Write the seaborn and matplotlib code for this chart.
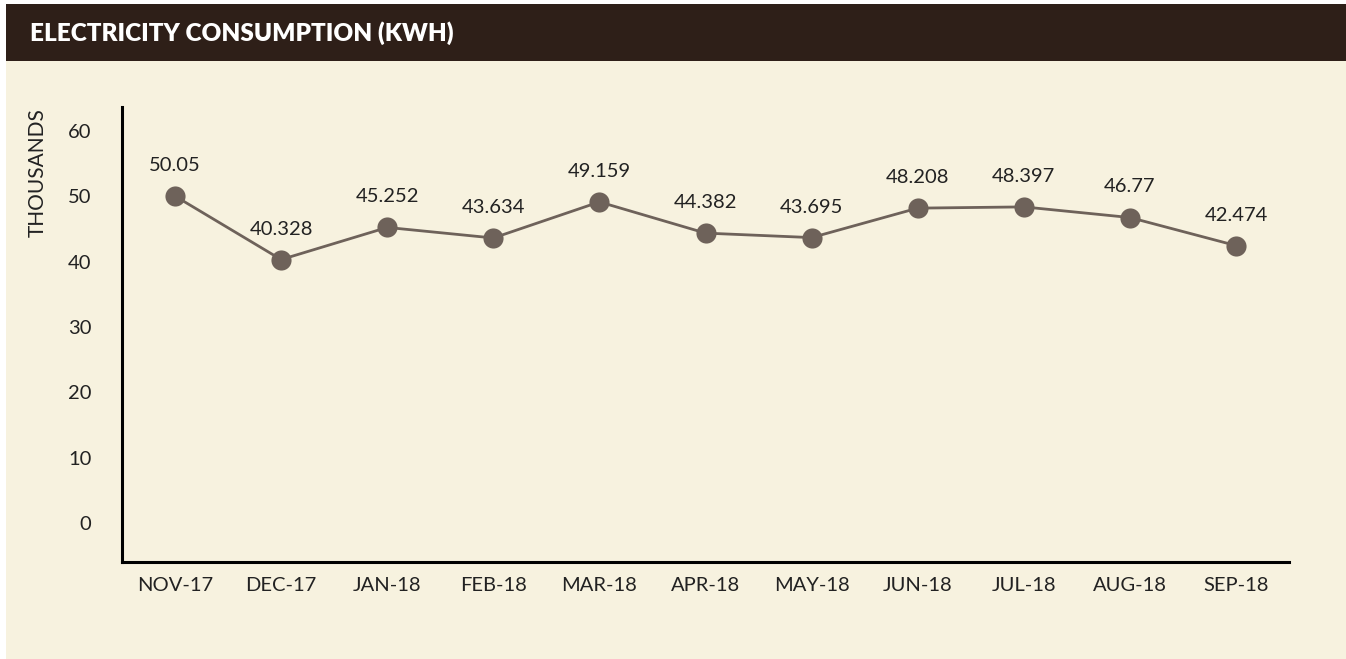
import matplotlib
matplotlib.use("Agg")
import matplotlib.pyplot as plt
from matplotlib.patches import Rectangle
import seaborn as sns
import pandas as pd

months = ["NOV-17", "DEC-17", "JAN-18", "FEB-18", "MAR-18", "APR-18",
          "MAY-18", "JUN-18", "JUL-18", "AUG-18", "SEP-18"]
consumption = [50.05, 40.328, 45.252, 43.634, 49.159, 44.382,
               43.695, 48.208, 48.397, 46.77, 42.474]
value_labels = ["50.05", "40.328", "45.252", "43.634", "49.159", "44.382",
                "43.695", "48.208", "48.397", "46.77", "42.474"]
y_ticks = [0, 10, 20, 30, 40, 50, 60]

sns.set_theme(style="white")
plt.rcParams["font.family"] = ["Lato", "DejaVu Sans"]

W, H = 1346, 659
fig = plt.figure(figsize=(W / 100, H / 100), dpi=100)
fig.patch.set_facecolor("white")

cream = "#F7F2DF"
dark = "#2E1F18"
line_col = "#6E625A"
text_col = "#222222"

bg = fig.add_axes([6 / W, 0, 1 - 6 / W, 1 - 4 / H])
bg.set_zorder(0)
bg.axis("off")
bg.set_xlim(0, 1)
bg.set_ylim(0, 1)
bg.add_patch(Rectangle((0, 0), 1, 1, transform=bg.transAxes,
                       facecolor=cream, edgecolor="none"))
bg.add_patch(Rectangle((0, 1 - 57 / (H - 4)), 1, 57 / (H - 4), transform=bg.transAxes,
                       facecolor=dark, edgecolor="none"))
fig.text(30 / W, 1 - 33 / H, "ELECTRICITY CONSUMPTION (KWH)", color="white",
         fontsize=17.5, fontweight="heavy", va="center", ha="left", zorder=5)

ax = fig.add_axes([122 / W, 1 - 562 / H, (1289 - 122) / W, (562 - 107) / H])
ax.set_zorder(2)
ax.set_facecolor("none")

df = pd.DataFrame({"month": months, "value": consumption})
sns.lineplot(data=df, x="month", y="value", ax=ax, color=line_col, linewidth=2.0,
             marker="o", markersize=14.5, markeredgewidth=0, sort=False)

for i, (v, lab) in enumerate(zip(consumption, value_labels)):
    ax.annotate(lab, (i, v), xytext=(0, 22), textcoords="offset points",
                ha="center", va="center", fontsize=14.5, color=text_col)

ax.set_xlim(-0.5, len(months) - 0.5)
ax.set_ylim(-6, 63.7)
ax.set_yticks(y_ticks)
ax.set_yticklabels([str(t) for t in y_ticks])
ax.set_xticks(range(len(months)))
ax.set_xticklabels(months)
ax.tick_params(axis="y", length=0, pad=22, labelsize=14.5, labelcolor=text_col)
ax.tick_params(axis="x", length=0, pad=11, labelsize=14.5, labelcolor=text_col)
ax.set_xlabel("")
ax.set_ylabel("")

for s in ["top", "right"]:
    ax.spines[s].set_visible(False)
for s in ["left", "bottom"]:
    ax.spines[s].set_visible(True)
    ax.spines[s].set_color("black")
    ax.spines[s].set_linewidth(2.2)
ax.grid(False)

fig.text(38 / W, 1 - 173 / H, "THOUSANDS", rotation=90, ha="center", va="center",
         fontsize=15, color=text_col, zorder=5)

fig.savefig("out.png", dpi=100, facecolor=fig.get_facecolor())
